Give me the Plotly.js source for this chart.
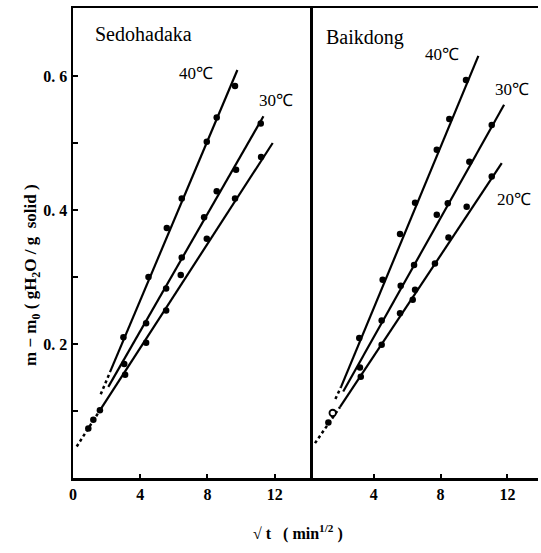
<!DOCTYPE html>
<html><head><meta charset="utf-8">
<script src="https://cdn.plot.ly/plotly-3.0.1.min.js"></script>
<style>body{margin:0;background:#fff}#c{width:541px;height:553px}</style>
</head><body><div id="c"></div>
<script>
// Sedohadaka (left panel)
const sedoX40 = [3.0, 4.49, 5.58, 6.47, 7.96, 8.55, 9.64];
const sedoY40 = [0.210, 0.300, 0.373, 0.417, 0.502, 0.538, 0.585];
const sedoX30 = [3.05, 4.35, 5.54, 6.47, 7.80, 8.55, 9.70, 11.17];
const sedoY30 = [0.170, 0.231, 0.283, 0.329, 0.389, 0.428, 0.460, 0.529];
const sedoX20 = [0.91, 1.21, 1.6, 3.1, 4.35, 5.54, 6.41, 7.96, 9.64, 11.19];
const sedoY20 = [0.074, 0.087, 0.101, 0.154, 0.202, 0.250, 0.303, 0.357, 0.417, 0.479];
// fitted lines [x start, x end], [y start, y end]
const sedoFit40X = [2.2, 9.78],  sedoFit40Y = [0.158, 0.609];
const sedoFit30X = [2.1, 11.33], sedoFit30Y = [0.136, 0.540];
const sedoFit20X = [1.6, 11.88], sedoFit20Y = [0.101, 0.500];
const sedoExtX = [0.22, 1.6], sedoExtY = [0.047, 0.101];
const sedoExt40X = [1.65, 2.2], sedoExt40Y = [0.125, 0.158];

// Baikdong (right panel)
const baikX40 = [3.13, 4.53, 5.57, 6.47, 7.77, 8.52, 9.52];
const baikY40 = [0.209, 0.296, 0.364, 0.411, 0.490, 0.536, 0.594];
const baikX30 = [3.17, 4.47, 5.61, 6.41, 7.77, 8.43, 9.72, 11.06];
const baikY30 = [0.165, 0.235, 0.287, 0.318, 0.393, 0.410, 0.472, 0.527];
const baikX20 = [1.28, 3.22, 4.47, 5.57, 6.33, 6.47, 7.66, 8.47, 9.56, 11.06];
const baikY20 = [0.083, 0.151, 0.199, 0.246, 0.266, 0.281, 0.320, 0.359, 0.405, 0.450];
const baikOpenX = [1.54], baikOpenY = [0.097];
const baikFit40X = [2.04, 10.26], baikFit40Y = [0.136, 0.630];
const baikFit30X = [2.17, 11.8],  baikFit30Y = [0.129, 0.557];
const baikFit20X = [1.98, 11.66], baikFit20Y = [0.106, 0.470];
const baikExtX = [0.48, 1.98], baikExtY = [0.052, 0.106];
const baikExt40X = [1.7, 2.04], baikExt40Y = [0.118, 0.136];

const yTicks = [0.2, 0.4, 0.6];
const yTickText = ["0. 2", "0. 4", "0. 6"];
const yMinorTicks = [0.1, 0.3, 0.5];
const xTicksL = [0, 4, 8, 12];
const xTicksR = [4, 8, 12];

const serif = "Liberation Serif, Times New Roman, serif";
const traces = [];
function pts(x, y, xa, open) {
  traces.push({x, y, xaxis: xa, yaxis: 'y', mode: 'markers', type: 'scatter',
    marker: {color: open ? '#fff' : '#000', size: 6.5, line: {color: '#000', width: open ? 1.8 : 0}}, hoverinfo: 'skip'});
}
function line(x, y, xa, dash) {
  traces.push({x, y, xaxis: xa, yaxis: 'y', mode: 'lines', type: 'scatter',
    line: {color: '#000', width: dash ? 2.5 : 2.2, dash: dash ? 'dot' : 'solid'}, hoverinfo: 'skip'});
}
line(sedoFit40X, sedoFit40Y, 'x'); line(sedoFit30X, sedoFit30Y, 'x'); line(sedoFit20X, sedoFit20Y, 'x');
line(sedoExtX, sedoExtY, 'x', true); line(sedoExt40X, sedoExt40Y, 'x', true);
pts(sedoX40, sedoY40, 'x'); pts(sedoX30, sedoY30, 'x'); pts(sedoX20, sedoY20, 'x');
line(baikFit40X, baikFit40Y, 'x2'); line(baikFit30X, baikFit30Y, 'x2'); line(baikFit20X, baikFit20Y, 'x2');
line(baikExtX, baikExtY, 'x2', true); line(baikExt40X, baikExt40Y, 'x2', true);
pts(baikX40, baikY40, 'x2'); pts(baikX30, baikY30, 'x2'); pts(baikX20, baikY20, 'x2'); pts(baikOpenX, baikOpenY, 'x2', true);

const tickFont = {family: serif, size: 16, color: '#000', weight: 'bold'};
const split = (310 - 73) / 465;
const ann = (text, x, y, xref, opts) => Object.assign({text, x, y, xref, yref: 'y', showarrow: false,
  font: {family: serif, size: 17, color: '#000'}}, opts || {});

const layout = {
  width: 541, height: 553,
  margin: {l: 73, r: 3, t: 8, b: 75},
  paper_bgcolor: '#fff', plot_bgcolor: '#fff',
  showlegend: false,
  xaxis: {domain: [0, split], range: [0, 14.1], tickvals: xTicksL, ticktext: xTicksL.map(String),
    ticks: 'inside', ticklen: 4, tickwidth: 2, tickcolor: '#000', showgrid: false, zeroline: false,
    showline: true, linewidth: 2.5, linecolor: '#000', mirror: true, tickfont: tickFont, anchor: 'y'},
  xaxis2: {domain: [split, 1], range: [0.18, 13.83], tickvals: xTicksR, ticktext: xTicksR.map(String),
    ticks: 'inside', ticklen: 4, tickwidth: 2, tickcolor: '#000', showgrid: false, zeroline: false,
    showline: true, linewidth: 2.5, linecolor: '#000', mirror: true, tickfont: tickFont, anchor: 'y'},
  yaxis: {range: [0, 0.7015], tickmode: 'array', tickvals: yTicks, ticktext: yTickText,
    ticks: 'inside', ticklen: 5, tickwidth: 2, tickcolor: '#000', showgrid: false, zeroline: false,
    minor: {tickmode: 'array', tickvals: yMinorTicks, ticks: 'inside', ticklen: 5, tickwidth: 2, tickcolor: '#000', showgrid: false},
    showline: true, linewidth: 2.5, linecolor: '#000', mirror: true, tickfont: tickFont},
  annotations: [
    ann('Sedohadaka', 1.2, 0.662, 'x', {xanchor: 'left', font: {family: serif, size: 20, color: '#000'}}),
    ann('Baikdong', 1.0, 0.657, 'x2', {xanchor: 'left', font: {family: serif, size: 20, color: '#000'}}),
    ann('40℃', 7.3, 0.603, 'x'),
    ann('30℃', 12.1, 0.563, 'x'),
    ann('40℃', 8.1, 0.632, 'x2'),
    ann('30℃', 12.3, 0.580, 'x2'),
    ann('20℃', 12.4, 0.415, 'x2'),
    {text: '<b>m − m<sub>0</sub> ( gH<sub>2</sub>O / g  solid )</b>', xref: 'paper', yref: 'paper',
      x: (19 - 73) / 465, y: (478 - 275) / 470, textangle: -90, showarrow: false,
      font: {family: serif, size: 17, color: '#000'}},
    {text: '<b>√ t   ( min<sup>1/2</sup> )</b>', xref: 'paper', yref: 'paper',
      x: (298 - 73) / 465, y: (478 - 545) / 470, showarrow: false,
      font: {family: serif, size: 16, color: '#000'}}
  ]
};
Plotly.newPlot('c', traces, layout, {staticPlot: true});
</script></body></html>
